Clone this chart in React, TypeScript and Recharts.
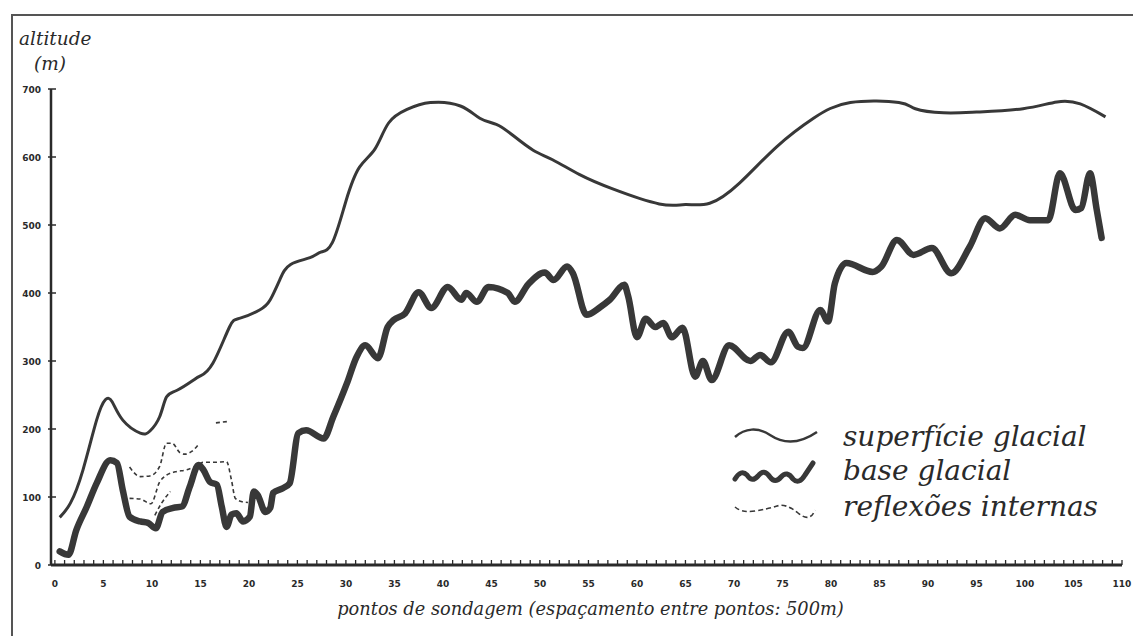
import React from "react";
import { LineChart, Line, XAxis, YAxis, Legend } from "recharts";

// superfície glacial (thin line)
const surfaceX = [
  0.5, 1.6, 2.9, 4.3, 5.2, 5.9, 7.0, 8.8, 9.8, 10.8, 11.5, 12.6, 14.3, 15.0, 16.3,
  18.0, 19.1, 21.1, 22.2, 23.2, 24.3, 26.3, 27.4, 28.6, 30.0, 31.4, 33.0, 34.4,
  36.3, 38.7, 41.8, 43.8, 45.5, 47.2, 49.3, 51.3, 54.1, 57.5, 62.3, 65.0, 67.5, 70.6,
  74.4, 78.2, 82.0, 87.0, 88.7, 91.6, 95.0, 99.8, 103.3, 105.7, 108.3,
];
const surfaceAlt = [
  70, 91, 140, 213, 243, 240, 213, 194, 197, 218, 247, 257, 272, 278, 297,
  350, 363, 375, 390, 420, 442, 452, 460, 474, 535, 585, 612, 650,
  670, 680, 675, 657, 648, 632, 610, 596, 574, 553, 531, 530, 532, 562,
  615, 657, 680, 680, 671, 665, 666, 671, 681, 678, 659,
];

// base glacial (thick line)
const baseX = [
  0.5, 1.4, 2.2, 3.3, 4.3, 5.7, 6.4, 7.0, 7.7, 8.8, 9.6, 10.4, 11.1, 12.2, 13.1,
  13.9, 14.8, 15.3, 16.0, 16.7, 17.2, 17.7, 18.2, 18.7, 19.4, 20.1, 20.5, 20.9,
  21.7, 22.2, 22.5, 23.5, 24.2, 25.1, 25.9, 27.7, 28.7, 30.1, 31.1, 32.0, 33.3,
  34.3, 34.9, 36.1, 37.5, 38.8, 40.5, 41.9, 42.4, 43.5, 44.7, 46.7, 47.4, 48.8,
  50.5, 51.4, 52.8, 53.4, 54.8, 56.2, 57.2, 58.7, 59.1, 60.0, 60.9, 61.9, 62.7,
  63.6, 64.7, 66.0, 66.8, 67.7, 69.5, 71.7, 72.7, 73.8, 75.6, 76.6, 77.1, 78.9,
  79.7, 80.4, 81.6, 84.3, 85.2, 86.8, 88.5, 90.4, 92.4, 94.3, 95.9, 97.4, 99.0,
  100.5, 102.4, 103.6, 105.2, 105.8, 106.7, 107.4, 107.9,
];
const baseAlt = [
  20, 15, 51, 86, 120, 154, 150, 110, 71, 64, 62, 54, 78, 84, 86,
  115, 147, 140, 122, 118, 86, 56, 74, 76, 64, 71, 108, 103,
  78, 84, 106, 113, 120, 194, 198, 186, 218, 267, 306, 323, 304,
  350, 360, 370, 401, 378, 409, 390, 400, 387, 409, 400, 387, 413,
  430, 419, 439, 429, 368, 379, 390, 412, 395, 335, 362, 350, 356,
  335, 349, 277, 300, 272, 323, 300, 309, 298, 343, 321, 319, 375,
  358, 414, 444, 431, 439, 478, 456, 466, 429, 468, 510, 495, 515,
  507, 507, 576, 522, 525, 576, 522, 481,
];

// reflexões internas (dashed pieces)
const reflUpperX = [7.7, 8.8, 9.8, 10.8, 11.5, 12.1, 12.9, 13.4, 14.1, 14.9];
const reflUpperAlt = [144, 130, 131, 145, 179, 179, 165, 163, 167, 179];
const reflTopX = [16.6, 17.8];
const reflTopAlt = [209, 211];
const reflLowerX = [7.7, 8.8, 9.9, 10.8, 11.5, 12.4, 13.6, 14.5, 15.3, 16.5, 17.7, 18.2, 18.6, 19.3, 19.9];
const reflLowerAlt = [98, 97, 90, 122, 132, 137, 140, 145, 151, 151, 152, 125, 98, 93, 92];
const reflShortX = [10.3, 11.0, 11.9];
const reflShortAlt = [73, 91, 108];

const xLabels = [0, 5, 10, 15, 20, 25, 30, 35, 40, 45, 50, 55, 60, 65, 70, 75, 80, 85, 90, 95, 100, 105, 110];
const yTicks = [0, 100, 200, 300, 400, 500, 600, 700];
const seriesNames = ["superfície glacial", "base glacial", "reflexões internas"];
const xTitle = "pontos de sondagem (espaçamento entre pontos: 500m)";

const minorTicks = Array.from({ length: 111 }, (_, i) => i);

const toRows = (xs: number[], ys: number[]) => xs.map((x, i) => ({ x, alt: ys[i] }));

const ink = "#2a2a2a";
const lineInk = "#383838";
const serif = "'DejaVu Serif', serif";
const tickFont = "'DejaVu Sans', sans-serif";

const XTick = (props: any) => {
  const { x, y, payload } = props;
  const v = payload.value;
  return (
    <g>
      <line x1={x} x2={x} y1={y - 5} y2={y} stroke={ink} strokeWidth={1.3} />
      {xLabels.includes(v) && (
        <text x={x} y={y + 22} textAnchor="middle" fontFamily={tickFont} fontWeight="bold" fontSize={9} fill={ink}>
          {v}
        </text>
      )}
    </g>
  );
};

const YTick = (props: any) => {
  const { x, y, payload } = props;
  return (
    <g>
      <line x1={x - 3} x2={x + 5} y1={y} y2={y} stroke={ink} strokeWidth={1.5} />
      <text x={x - 10} y={y + 3.5} textAnchor="end" fontFamily={tickFont} fontWeight="bold" fontSize={9} fill={ink}>
        {payload.value}
      </text>
    </g>
  );
};

const YTitle = () => (
  <g fontFamily={serif} fontStyle="italic" fontSize={18.5} fill={ink}>
    <text x={19} y={45}>altitude</text>
    <text x={34} y={70}>(m)</text>
  </g>
);

const LegendBox = () => (
  <svg width={420} height={115} style={{ overflow: "visible" }}>
    <path d="M15 22 C 25 13, 38 12, 50 20 S 78 30, 97 17" fill="none" stroke={lineInk} strokeWidth={2.5} />
    <path
      d="M15 64 Q 21 54, 27 60 Q 32 68, 38 61 Q 44 53, 50 62 Q 55 69, 61 62 Q 67 55, 73 64 Q 79 70, 85 60 L 93 48"
      fill="none" stroke={lineInk} strokeWidth={5} strokeLinecap="round" strokeLinejoin="round"
    />
    <path d="M15 92 Q 22 98, 35 96 T 57 91 T 78 98 T 95 95" fill="none" stroke={lineInk} strokeWidth={1.6} strokeDasharray="5 3" />
    <g fontFamily={serif} fontStyle="italic" fontSize={28} fill={ink}>
      <text x={123} y={31}>{seriesNames[0]}</text>
      <text x={123} y={65}>{seriesNames[1]}</text>
      <text x={123} y={101}>{seriesNames[2]}</text>
    </g>
  </svg>
);

export default function App() {
  return (
    <div style={{ position: "absolute", left: 0, top: 0, width: 1133, height: 636, overflow: "hidden", background: "#fff" }}>
      <div
        style={{
          position: "absolute", left: 11, top: 14, width: 1200, height: 700,
          borderTop: "2px solid #555", borderLeft: "2px solid #555",
        }}
      />
      <LineChart width={1133} height={636} margin={{ top: 89, right: 11, bottom: 0, left: 0 }}>
        <XAxis
          dataKey="x"
          type="number"
          domain={[-0.4, 110]}
          allowDataOverflow
          ticks={minorTicks}
          interval={0}
          tick={<XTick />}
          tickLine={false}
          tickSize={0}
          tickMargin={0}
          axisLine={{ stroke: ink, strokeWidth: 3 }}
          height={71}
          label={{
            value: xTitle, position: "insideBottom", offset: 21, dx: 4,
            style: { fontFamily: serif, fontStyle: "italic", fontSize: 17.8, fill: ink },
          }}
        />
        <YAxis
          type="number"
          domain={[0, 700]}
          ticks={yTicks}
          interval={0}
          tick={<YTick />}
          tickLine={false}
          tickSize={0}
          tickMargin={0}
          axisLine={{ stroke: ink, strokeWidth: 2.5 }}
          width={51}
          label={<YTitle />}
        />
        <Legend
          layout="horizontal"
          verticalAlign="middle"
          align="center"
          content={<LegendBox />}
          wrapperStyle={{ position: "absolute", left: 720, top: 415, width: 420, height: 115 }}
        />
        <Line data={toRows(surfaceX, surfaceAlt)} dataKey="alt" name={seriesNames[0]} type="natural"
          stroke={lineInk} strokeWidth={3} dot={false} activeDot={false} isAnimationActive={false} />
        <Line data={toRows(baseX, baseAlt)} dataKey="alt" name={seriesNames[1]} type="monotone"
          stroke={lineInk} strokeWidth={6.5} strokeLinejoin="round" strokeLinecap="round"
          dot={false} activeDot={false} isAnimationActive={false} />
        <Line data={toRows(reflUpperX, reflUpperAlt)} dataKey="alt" name={seriesNames[2]} type="monotone"
          stroke={lineInk} strokeWidth={1.6} strokeDasharray="4 3" dot={false} activeDot={false} isAnimationActive={false} />
        <Line data={toRows(reflLowerX, reflLowerAlt)} dataKey="alt" name={seriesNames[2]} type="monotone"
          stroke={lineInk} strokeWidth={1.6} strokeDasharray="4 3" dot={false} activeDot={false} isAnimationActive={false} />
        <Line data={toRows(reflShortX, reflShortAlt)} dataKey="alt" name={seriesNames[2]} type="monotone"
          stroke={lineInk} strokeWidth={1.6} strokeDasharray="4 3" dot={false} activeDot={false} isAnimationActive={false} />
        <Line data={toRows(reflTopX, reflTopAlt)} dataKey="alt" name={seriesNames[2]} type="monotone"
          stroke={lineInk} strokeWidth={1.6} strokeDasharray="4 3" dot={false} activeDot={false} isAnimationActive={false} />
      </LineChart>
    </div>
  );
}
